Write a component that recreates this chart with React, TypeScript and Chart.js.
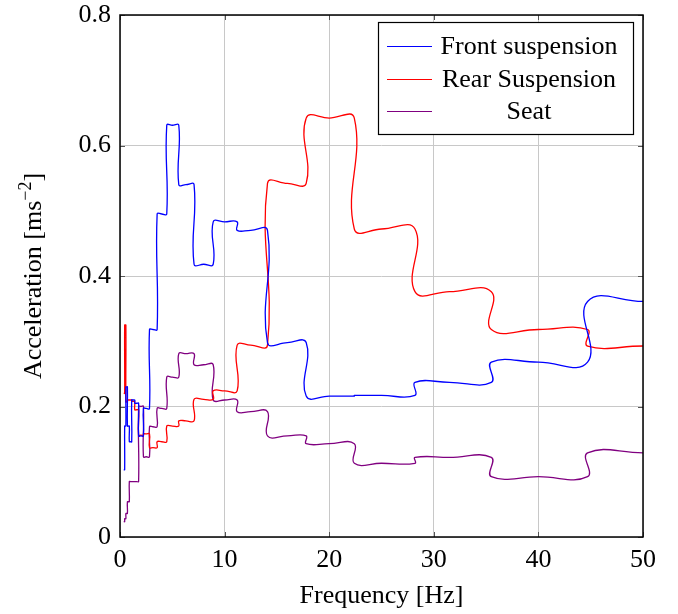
import React, { useEffect, useRef } from 'react';
import { Chart, registerables } from 'chart.js';

Chart.register(...registerables);

// One-third octave bands (lower/upper edges and centre frequencies, Hz)
const bandEdges = [0.355, 0.447, 0.562, 0.708, 0.891, 1.12, 1.41, 1.78, 2.24, 2.82, 3.55, 4.47, 5.62, 7.08, 8.91, 11.2, 14.1, 17.8, 22.4, 28.2, 35.5, 44.7, 56.2];
const bandCenters = [0.4, 0.5, 0.63, 0.8, 1.0, 1.25, 1.6, 2.0, 2.5, 3.15, 4, 5, 6.3, 8, 10, 12.5, 16, 20, 25, 31.5, 40, 50];

// Band acceleration values [m/s^2]
const frontSuspension = [0.103, 0.17, 0.23, 0.17, 0.146, 0.21, 0.205, 0.155, 0.197, 0.318, 0.495, 0.631, 0.54, 0.418, 0.483, 0.47, 0.298, 0.216, 0.217, 0.237, 0.268, 0.361];
const rearSuspension = [0.22, 0.325, 0.207, 0.21, 0.21, 0.208, 0.195, 0.156, 0.158, 0.137, 0.146, 0.17, 0.178, 0.211, 0.224, 0.294, 0.542, 0.642, 0.472, 0.376, 0.318, 0.2927];
const seat = [0.0235, 0.028, 0.036, 0.054, 0.085, 0.085, 0.085, 0.2, 0.123, 0.169, 0.197, 0.245, 0.281, 0.264, 0.21, 0.192, 0.155, 0.143, 0.113, 0.122, 0.0924, 0.129];

const seriesLabels = ['Front suspension', 'Rear Suspension', 'Seat'];
const seriesColors = ['#0000ff', '#ff0000', '#800080'];

const xTicks = [0, 10, 20, 30, 40, 50];
const yTicks = [0, 0.2, 0.4, 0.6, 0.8];

const FONT_FAMILY = '"Liberation Serif", "Times New Roman", serif';
const FONT_SIZE = 26;

function bandPoints(values: number[]) {
  const pts: { x: number; y: number }[] = [];
  values.forEach((v, i) => {
    pts.push({ x: bandEdges[i], y: v }, { x: bandCenters[i], y: v }, { x: bandEdges[i + 1], y: v });
  });
  return pts;
}

const framePlugin = {
  id: 'framePlugin',
  afterDatasetsDraw(chart: any) {
    const { ctx, chartArea } = chart;
    const { left, right, top, bottom } = chartArea;
    const xs = chart.scales.x;
    const ys = chart.scales.y;
    ctx.save();
    ctx.strokeStyle = '#555555';
    ctx.lineWidth = 1;
    ctx.beginPath();
    xTicks.forEach((t) => {
      const px = Math.round(xs.getPixelForValue(t)) + 0.5;
      ctx.moveTo(px, bottom);
      ctx.lineTo(px, bottom - 5);
      ctx.moveTo(px, top);
      ctx.lineTo(px, top + 5);
    });
    yTicks.forEach((t) => {
      const py = Math.round(ys.getPixelForValue(t)) + 0.5;
      ctx.moveTo(left, py);
      ctx.lineTo(left + 5, py);
      ctx.moveTo(right, py);
      ctx.lineTo(right - 5, py);
    });
    ctx.stroke();
    ctx.strokeStyle = '#000000';
    ctx.lineWidth = 1.5;
    ctx.strokeRect(Math.round(left), Math.round(top), Math.round(right - left), Math.round(bottom - top));
    ctx.restore();
  },
  afterDraw(chart: any) {
    const { ctx, chartArea } = chart;
    const { top, bottom } = chartArea;
    ctx.save();
    // y axis title with superscript
    ctx.fillStyle = '#000';
    ctx.translate(34, (top + bottom) / 2);
    ctx.rotate(-Math.PI / 2);
    ctx.textBaseline = 'middle';
    ctx.textAlign = 'left';
    const mainFont = `${FONT_SIZE}px ${FONT_FAMILY}`;
    const supFont = `${Math.round(FONT_SIZE * 0.7)}px ${FONT_FAMILY}`;
    const p1 = 'Acceleration [ms';
    const p2 = '\u22122';
    const p3 = ']';
    ctx.font = mainFont;
    const w1 = ctx.measureText(p1).width;
    const w3 = ctx.measureText(p3).width;
    ctx.font = supFont;
    const w2 = ctx.measureText(p2).width;
    let x0 = -(w1 + w2 + w3) / 2;
    ctx.font = mainFont;
    ctx.fillText(p1, x0, 0);
    x0 += w1;
    ctx.font = supFont;
    ctx.fillText(p2, x0, -8);
    x0 += w2;
    ctx.font = mainFont;
    ctx.fillText(p3, x0, 0);
    ctx.restore();

    // legend
    ctx.save();
    const bx = 378, by = 22, bw = 255, bh = 112;
    ctx.fillStyle = '#ffffff';
    ctx.fillRect(bx, by, bw, bh);
    ctx.strokeStyle = '#000';
    ctx.lineWidth = 1.2;
    ctx.strokeRect(bx + 0.5, by + 0.5, bw, bh);
    const rows = [46, 79, 111];
    ctx.font = `${FONT_SIZE}px ${FONT_FAMILY}`;
    ctx.textAlign = 'center';
    ctx.textBaseline = 'middle';
    chart.data.datasets.forEach((ds: any, i: number) => {
      const ry = rows[i];
      ctx.strokeStyle = ds.borderColor;
      ctx.lineWidth = 1;
      ctx.beginPath();
      ctx.moveTo(387, ry + 0.5);
      ctx.lineTo(432, ry + 0.5);
      ctx.stroke();
      ctx.fillStyle = '#000';
      ctx.fillText(ds.label, 529, ry + 1);
    });
    ctx.restore();
  },
};

export default function App() {
  const canvasRef = useRef<HTMLCanvasElement | null>(null);

  useEffect(() => {
    document.body.style.margin = '0';
    const canvas = canvasRef.current;
    if (!canvas) return;
    const seriesValues = [frontSuspension, rearSuspension, seat];
    const chart = new Chart(canvas, {
      type: 'line',
      data: {
        datasets: seriesValues.map((vals, i) => ({
          label: seriesLabels[i],
          data: bandPoints(vals),
          borderColor: seriesColors[i],
          backgroundColor: seriesColors[i],
          borderWidth: 1.3,
          pointRadius: 0,
          fill: false,
          tension: 0.45,
        })),
      },
      options: {
        animation: false,
        responsive: false,
        maintainAspectRatio: false,
        layout: { padding: { top: 15, right: 35, left: 0, bottom: 0 } },
        plugins: {
          legend: { display: false },
          tooltip: { enabled: false },
        },
        scales: {
          x: {
            type: 'linear',
            min: 0,
            max: 50,
            ticks: {
              stepSize: 10,
              color: '#000',
              padding: 8,
              font: { family: FONT_FAMILY, size: FONT_SIZE },
              maxRotation: 0,
            },
            grid: { color: '#c8c8c8', lineWidth: 1, drawTicks: false },
            border: { display: false },
            title: {
              display: true,
              text: 'Frequency [Hz]',
              color: '#000',
              font: { family: FONT_FAMILY, size: FONT_SIZE },
              padding: { top: 0, bottom: 2 },
            },
            afterFit: (s: any) => {
              s.height = 77;
              s.paddingLeft = 0;
              s.paddingRight = 0;
            },
          },
          y: {
            type: 'linear',
            min: 0,
            max: 0.8,
            ticks: {
              stepSize: 0.2,
              color: '#000',
              padding: 9,
              font: { family: FONT_FAMILY, size: FONT_SIZE },
            },
            grid: { color: '#c8c8c8', lineWidth: 1, drawTicks: false },
            border: { display: false },
            afterFit: (s: any) => {
              s.width = 120;
              s.paddingTop = 0;
              s.paddingBottom = 0;
            },
          },
        },
      },
      plugins: [framePlugin],
    });
    return () => chart.destroy();
  }, []);

  return (
    <div style={{ width: 678, height: 614, background: '#fff' }}>
      <canvas ref={canvasRef} width={678} height={614} style={{ display: 'block' }} />
    </div>
  );
}
